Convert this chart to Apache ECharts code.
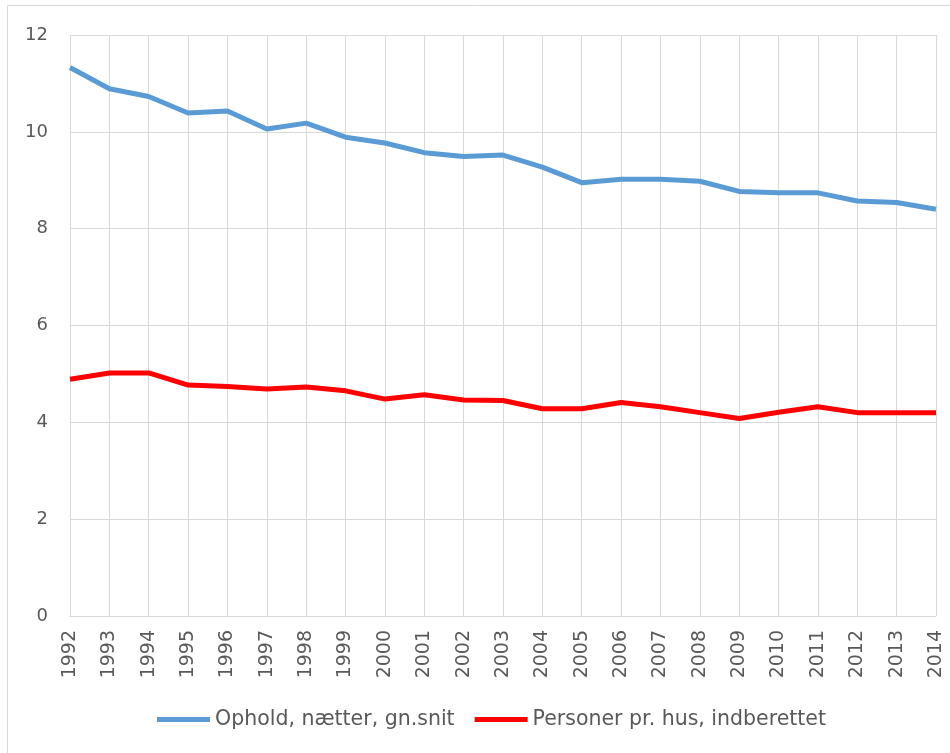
<!DOCTYPE html>
<html>
<head>
<meta charset="utf-8">
<script src="https://cdn.jsdelivr.net/npm/echarts@6/dist/echarts.min.js"></script>
<style>
  html, body { margin: 0; padding: 0; background: #fff; }
  #chart { width: 950px; height: 753px; }
</style>
</head>
<body>
<div id="chart"></div>
<script>
// årstal og værdier
const years = ['1992', '1993', '1994', '1995', '1996', '1997', '1998', '1999', '2000', '2001', '2002',
  '2003', '2004', '2005', '2006', '2007', '2008', '2009', '2010', '2011', '2012', '2013', '2014'];
const ophold = [11.33, 10.89, 10.73, 10.39, 10.43, 10.06, 10.18, 9.89, 9.77, 9.57, 9.49,
  9.52, 9.27, 8.95, 9.02, 9.02, 8.98, 8.77, 8.74, 8.74, 8.57, 8.54, 8.40];
const personer = [4.89, 5.02, 5.02, 4.77, 4.74, 4.69, 4.73, 4.65, 4.48, 4.57, 4.46,
  4.45, 4.28, 4.28, 4.41, 4.32, 4.20, 4.08, 4.21, 4.32, 4.20, 4.20, 4.20];
const seriesNames = ['Ophold, nætter, gn.snit', 'Personer pr. hus, indberettet'];

const myChart = echarts.init(document.getElementById('chart'));

const option = {
  animation: false,
  textStyle: { fontFamily: '"DejaVu Sans", sans-serif' },
  graphic: [
    {
      type: 'rect',
      shape: { x: 7.5, y: 5.5, width: 960, height: 760 },
      style: { fill: 'none', stroke: '#d9d9d9', lineWidth: 1 },
      silent: true
    }
  ],
  grid: { left: 70, right: 14, top: 35, bottom: 137 },
  legend: {
    bottom: 18,
    left: 152,
    itemGap: 20,
    itemWidth: 53,
    itemHeight: 5,
    icon: 'rect',
    textStyle: { color: '#595959', fontSize: 20.5 },
    data: seriesNames
  },
  xAxis: {
    type: 'category',
    data: years,
    boundaryGap: false,
    axisLine: { show: true, lineStyle: { color: '#d9d9d9', width: 1 } },
    axisTick: { show: false },
    splitLine: { show: true, lineStyle: { color: '#d9d9d9', width: 1 } },
    axisLabel: { rotate: 90, color: '#595959', fontSize: 19, margin: 14, interval: 0 }
  },
  yAxis: {
    type: 'value',
    min: 0,
    max: 12,
    interval: 2,
    axisLine: { show: false },
    axisTick: { show: false },
    splitLine: { lineStyle: { color: '#d9d9d9', width: 1 } },
    axisLabel: { color: '#595959', fontSize: 18, margin: 22 }
  },
  series: [
    {
      name: seriesNames[0],
      type: 'line',
      data: ophold,
      symbol: 'none',
      lineStyle: { color: '#5b9bd5', width: 5 },
      itemStyle: { color: '#5b9bd5' }
    },
    {
      name: seriesNames[1],
      type: 'line',
      data: personer,
      symbol: 'none',
      lineStyle: { color: '#ff0000', width: 5 },
      itemStyle: { color: '#ff0000' }
    }
  ]
};

myChart.setOption(option);
</script>
</body>
</html>
